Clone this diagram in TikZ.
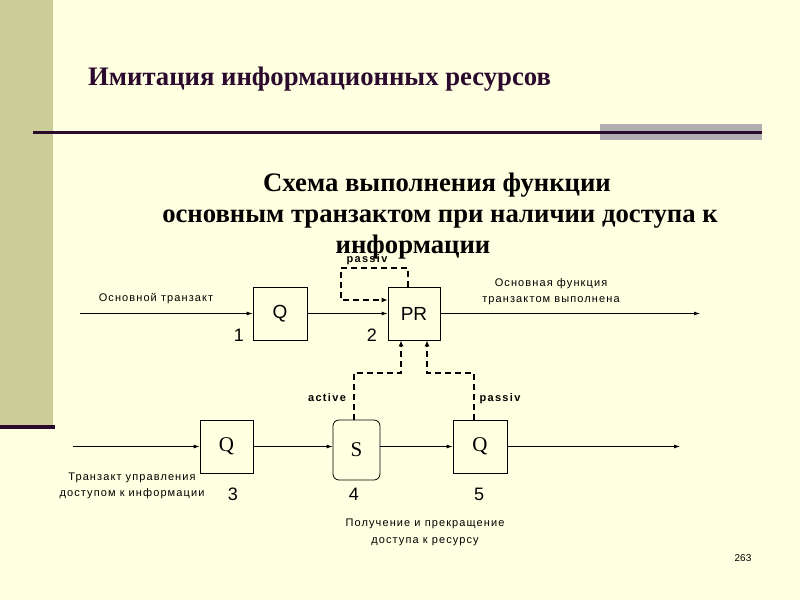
\documentclass[tikz,border=0pt]{standalone}
\usepackage{fontspec}
\setmainfont{Liberation Serif}
\setsansfont{Liberation Sans}
\usetikzlibrary{arrows.meta,calc}
\definecolor{bgc}{HTML}{FFFFE1}
\definecolor{stripc}{HTML}{CCCC99}
\definecolor{darkp}{HTML}{2B0A2E}
\definecolor{grayb}{HTML}{B0AEB0}
\tikzset{
  blk/.style={draw=black,line width=0.8pt,minimum width=54pt,minimum height=53pt,inner sep=0pt},
  flow/.style={line width=0.8pt,-{Latex[length=6pt,width=4pt]}},
  dsh/.style={line width=2pt,dash pattern=on 6pt off 4pt,-{Latex[length=6pt,width=5pt]}},
  lbl/.style={font=\sffamily\fontsize{11}{16}\selectfont\addfontfeature{LetterSpace=10},align=center,inner sep=0pt},
  blbl/.style={font=\sffamily\bfseries\fontsize{11}{13}\selectfont\addfontfeature{LetterSpace=12},inner sep=0pt},
  num/.style={font=\sffamily\fontsize{18}{20}\selectfont,inner sep=0pt},
  sub/.style={anchor=base,inner sep=0pt,font=\bfseries\fontsize{26.7}{31}\selectfont},
}
\begin{document}
\begin{tikzpicture}[x=1pt,y=-1pt]
\fill[bgc] (0,0) rectangle (800,600);
\useasboundingbox (0,0) rectangle (800,600);
\fill[stripc] (0,0) rectangle (53,425);
\fill[darkp] (0,425) rectangle (55,429);
\fill[grayb] (600,124) rectangle (762,140);
\draw[darkp,line width=3pt] (33,132) -- (762,132);
\node[anchor=base west,text=darkp,inner sep=0pt,font=\bfseries\fontsize{26.7}{30}\selectfont] (title) at (88,85) {Имитация информационных ресурсов};
\node[sub] (st1) at (437,191) {Схема выполнения функции};
\node[sub] (st2) at (440,222) {основным транзактом при наличии доступа к};
\node[sub] (st3) at (413,253) {информации};
% blocks
\node[blk,font=\sffamily\fontsize{19}{22}\selectfont] (Q1) at (280,313.5) {Q};
\node[blk,minimum width=52pt,font=\sffamily\fontsize{19}{22}\selectfont] (PR) at (414,313.5) {PR};
\node[blk,minimum width=53pt,font=\fontsize{21}{24}\selectfont] (Q3) at (226.5,446.5) {Q};
\node[blk,minimum width=47pt,minimum height=60pt,rounded corners=6pt,font=\fontsize{21}{24}\selectfont] (S) at (356.5,450) {S};
\node[blk,font=\fontsize{21}{24}\selectfont] (Q5) at (480,446.5) {Q};
\coordinate (in1) at (80,313.5);
\coordinate (out1) at (700,313.5);
\coordinate (in2) at (73,446.5);
\coordinate (out2) at (680,446.5);
\draw[flow] (in1) -- (Q1.west);
\draw[flow] (Q1.east) -- (PR.west);
\draw[flow] (PR.east) -- (out1);
\draw[flow] (in2) -- (Q3.west);
\draw[flow] (Q3.east) -- (Q3.east -| S.west);
\draw[flow] (Q3.east -| S.east) -- (Q5.west);
\draw[flow] (Q5.east) -- (out2);
% dashed
\coordinate (lp) at (341,300);
\draw[dsh] ($(PR.north)+(-6,0)$) -- ++(0,-19) -| (lp) -- (lp -| PR.west);
\draw[dsh] ($(S.north)+(-3,0)$) -- ++(0,-47) -| ($(PR.south)+(-13,0)$);
\draw[dsh] ($(Q5.north)+(-6,0)$) -- ++(0,-47) -| ($(PR.south)+(13,0)$);
% labels
\node[lbl,anchor=base] (l1) at (156,301) {Основной транзакт};
\node[lbl,anchor=base] (l2) at (551,302) {Основная функция\\транзактом выполнена};
\node[lbl,anchor=base] (l3) at (132,496) {Транзакт управления\\доступом к информации};
\node[lbl,anchor=base,font=\sffamily\fontsize{11}{17}\selectfont\addfontfeature{LetterSpace=10}] (l4) at (425,543) {Получение и прекращение\\доступа к ресурсу};
\node[blbl,anchor=base] (p1) at (367,262) {passiv};
\node[blbl,anchor=base] (a1) at (327,401) {active};
\node[blbl,anchor=base] (p2) at (500,401) {passiv};
\node[num,anchor=base] (n1) at (239,341) {1};
\node[num,anchor=base] (n2) at (372,341) {2};
\node[num,anchor=base] (n3) at (233,500) {3};
\node[num,anchor=base] (n4) at (354,500) {4};
\node[num,anchor=base] (n5) at (479,500) {5};
\node[anchor=base,inner sep=0pt,font=\sffamily\fontsize{10}{12}\selectfont] (pg) at (743,561) {263};
\end{tikzpicture}
\end{document}
